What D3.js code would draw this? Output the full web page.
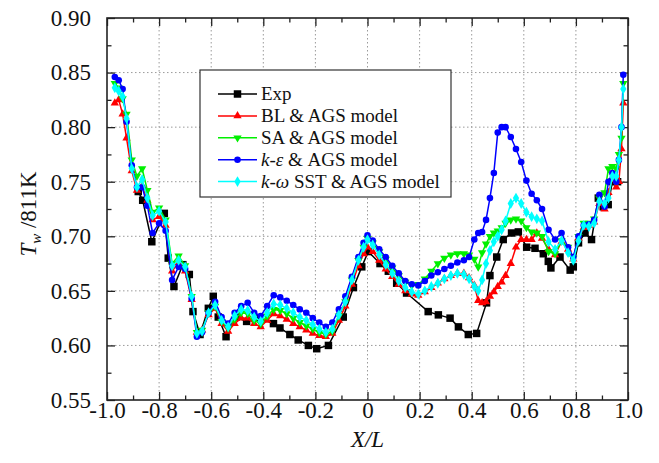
<!DOCTYPE html>
<html>
<head>
<meta charset="utf-8">
<script src="https://cdn.jsdelivr.net/npm/d3@7"></script>
<style>
  body { margin: 0; background: #fff; }
  text { font-family: "Liberation Serif", "Times New Roman", serif; }
</style>
</head>
<body>
<div id="chart"></div>
<script>
// shared X/L positions of the simulation points
const xSim = [-0.97, -0.955, -0.94, -0.925, -0.905, -0.885, -0.865, -0.845, -0.825, -0.8,
  -0.775, -0.75, -0.725, -0.7, -0.675, -0.655, -0.635, -0.61, -0.585, -0.56,
  -0.535, -0.51, -0.485, -0.46, -0.435, -0.41, -0.385, -0.36, -0.335, -0.31,
  -0.285, -0.26, -0.235, -0.21, -0.185, -0.16, -0.135, -0.11, -0.085, -0.06,
  -0.035, -0.015, 0.0, 0.02, 0.045, 0.07, 0.095, 0.12, 0.145, 0.17,
  0.195, 0.22, 0.245, 0.27, 0.295, 0.32, 0.345, 0.37, 0.39, 0.41,
  0.425, 0.44, 0.455, 0.47, 0.485, 0.5, 0.515, 0.53, 0.55, 0.57,
  0.59, 0.61, 0.63, 0.65, 0.67, 0.695, 0.72, 0.745, 0.77, 0.79,
  0.81, 0.83, 0.85, 0.87, 0.89, 0.91, 0.925, 0.94, 0.955, 0.965,
  0.975, 0.982];

const blY = [0.822, 0.825, 0.812, 0.790, 0.760, 0.742, 0.746, 0.733, 0.715, 0.718,
  0.710, 0.668, 0.676, 0.668, 0.642, 0.612, 0.614, 0.628, 0.634, 0.620,
  0.613, 0.620, 0.625, 0.625, 0.620, 0.617, 0.623, 0.629, 0.627, 0.624,
  0.620, 0.617, 0.614, 0.611, 0.609, 0.608, 0.611, 0.623, 0.636, 0.656,
  0.673, 0.684, 0.690, 0.686, 0.678, 0.670, 0.663, 0.656, 0.650, 0.647,
  0.646, 0.649, 0.653, 0.657, 0.661, 0.664, 0.666, 0.666, 0.662, 0.655,
  0.641, 0.639, 0.640, 0.645, 0.649, 0.654, 0.658, 0.664, 0.675, 0.690,
  0.697, 0.697, 0.697, 0.703, 0.698, 0.688, 0.683, 0.695, 0.688, 0.679,
  0.698, 0.708, 0.710, 0.713, 0.730, 0.725, 0.740, 0.752, 0.745, 0.750,
  0.780, 0.822];

const saY = [0.840, 0.836, 0.826, 0.812, 0.770, 0.755, 0.762, 0.742, 0.722, 0.726,
  0.715, 0.675, 0.682, 0.673, 0.645, 0.612, 0.614, 0.630, 0.636, 0.622,
  0.616, 0.624, 0.630, 0.629, 0.623, 0.620, 0.627, 0.633, 0.632, 0.629,
  0.625, 0.621, 0.618, 0.615, 0.612, 0.610, 0.613, 0.627, 0.640, 0.660,
  0.678, 0.690, 0.698, 0.694, 0.686, 0.679, 0.671, 0.664, 0.658, 0.655,
  0.656, 0.661, 0.668, 0.675, 0.680, 0.683, 0.684, 0.684, 0.683, 0.679,
  0.672, 0.685, 0.693, 0.700, 0.703, 0.705, 0.708, 0.712, 0.715, 0.716,
  0.714, 0.708, 0.704, 0.703, 0.700, 0.686, 0.684, 0.696, 0.690, 0.680,
  0.700, 0.712, 0.712, 0.716, 0.735, 0.740, 0.762, 0.764, 0.762, 0.775,
  0.790, 0.840];

const keY = [0.846, 0.843, 0.835, 0.805, 0.765, 0.745, 0.745, 0.728, 0.703, 0.712,
  0.705, 0.660, 0.672, 0.670, 0.643, 0.608, 0.612, 0.630, 0.640, 0.626,
  0.620, 0.630, 0.636, 0.639, 0.630, 0.627, 0.636, 0.646, 0.644, 0.641,
  0.637, 0.633, 0.630, 0.625, 0.621, 0.617, 0.621, 0.633, 0.645, 0.663,
  0.681, 0.694, 0.701, 0.696, 0.688, 0.681, 0.673, 0.666, 0.659, 0.656,
  0.655, 0.659, 0.664, 0.667, 0.670, 0.673, 0.676, 0.678, 0.681, 0.697,
  0.703, 0.704, 0.715, 0.735, 0.758, 0.795, 0.800, 0.800, 0.791, 0.780,
  0.768, 0.751, 0.739, 0.733, 0.725, 0.706, 0.697, 0.703, 0.690, 0.681,
  0.700, 0.710, 0.711, 0.715, 0.738, 0.727, 0.750, 0.758, 0.750, 0.770,
  0.800, 0.848];

const kwY = [0.836, 0.833, 0.828, 0.808, 0.762, 0.745, 0.752, 0.735, 0.719, 0.723,
  0.713, 0.673, 0.678, 0.672, 0.645, 0.611, 0.613, 0.630, 0.637, 0.623,
  0.617, 0.627, 0.633, 0.632, 0.626, 0.622, 0.630, 0.638, 0.637, 0.634,
  0.630, 0.626, 0.623, 0.619, 0.615, 0.612, 0.615, 0.628, 0.640, 0.660,
  0.678, 0.690, 0.697, 0.692, 0.683, 0.674, 0.666, 0.659, 0.653, 0.649,
  0.647, 0.650, 0.654, 0.657, 0.661, 0.664, 0.666, 0.665, 0.661, 0.654,
  0.650, 0.660, 0.675, 0.687, 0.695, 0.700, 0.706, 0.714, 0.730, 0.735,
  0.730, 0.722, 0.718, 0.716, 0.714, 0.695, 0.688, 0.696, 0.685, 0.678,
  0.696, 0.710, 0.709, 0.712, 0.732, 0.730, 0.735, 0.755, 0.755, 0.770,
  0.800, 0.835];

// experiment
const expX = [-0.88, -0.863, -0.828, -0.78, -0.765, -0.743, -0.709, -0.684, -0.67, -0.643,
  -0.611, -0.592, -0.573, -0.543, -0.505, -0.464, -0.413, -0.361, -0.336, -0.298,
  -0.266, -0.227, -0.195, -0.15, -0.093, -0.054, -0.022, 0.003, 0.048, 0.08,
  0.112, 0.15, 0.233, 0.272, 0.317, 0.349, 0.387, 0.419, 0.457, 0.47,
  0.496, 0.521, 0.553, 0.579, 0.611, 0.643, 0.675, 0.694, 0.704, 0.739,
  0.778, 0.79, 0.81, 0.835, 0.86, 0.886, 0.905, 0.924, 0.94, 0.96];
const expY = [0.741, 0.733, 0.695, 0.721, 0.680, 0.654, 0.674, 0.665, 0.631, 0.610,
  0.634, 0.645, 0.626, 0.608, 0.626, 0.622, 0.625, 0.620, 0.616, 0.610,
  0.605, 0.600, 0.597, 0.600, 0.626, 0.653, 0.672, 0.686, 0.675, 0.668,
  0.657, 0.648, 0.631, 0.628, 0.625, 0.617, 0.610, 0.611, 0.639, 0.664,
  0.681, 0.697, 0.703, 0.704, 0.690, 0.689, 0.684, 0.677, 0.671, 0.681,
  0.669, 0.672, 0.694, 0.703, 0.697, 0.735, 0.727, 0.729, 0.750, 0.750];

const xTicks = [-1.0, -0.8, -0.6, -0.4, -0.2, 0, 0.2, 0.4, 0.6, 0.8, 1.0];
const yTicks = [0.55, 0.60, 0.65, 0.70, 0.75, 0.80, 0.85, 0.90];
const seriesNames = ['Exp', 'BL & AGS model', 'SA & AGS model', 'k-ε & AGS model', 'k-ω SST & AGS model'];

const W = 659, H = 463;
const margin = { left: 107, right: 31, top: 18, bottom: 63 };
const width = W - margin.left - margin.right;
const height = H - margin.top - margin.bottom;

const svg = d3.select('#chart').append('svg')
  .attr('width', W)
  .attr('height', H);

const g = svg.append('g')
  .attr('transform', `translate(${margin.left}, ${margin.top})`);

const x = d3.scaleLinear().domain([-1, 1]).range([0, width]);
const y = d3.scaleLinear().domain([0.55, 0.9]).range([height, 0]);

// dotted grid
g.append('g').selectAll('line')
  .data(xTicks.slice(1, -1))
  .join('line')
    .attr('x1', d => x(d)).attr('x2', d => x(d))
    .attr('y1', 0).attr('y2', height)
    .attr('stroke', '#9a9a9a').attr('stroke-width', 1)
    .attr('stroke-dasharray', '1.5,2.5');
g.append('g').selectAll('line')
  .data(yTicks.slice(1, -1))
  .join('line')
    .attr('y1', d => y(d)).attr('y2', d => y(d))
    .attr('x1', 0).attr('x2', width)
    .attr('stroke', '#9a9a9a').attr('stroke-width', 1)
    .attr('stroke-dasharray', '1.5,2.5');

// axes, ticks pointing inward
const xMinor = d3.range(-0.9, 1.0, 0.2).map(d => +d.toFixed(2));
const yMinor = d3.range(0.575, 0.9, 0.05).map(d => +d.toFixed(3));
const fmtX = d => d === 0 ? '0' : d3.format('.1f')(d).replace('\u2212', '-');

function styleAxis(sel) {
  sel.select('.domain').remove();
  sel.selectAll('line').attr('stroke', '#222').attr('stroke-width', 1.3);
  sel.selectAll('text').attr('font-size', 23).attr('fill', '#111')
    .style('font-family', '"Liberation Serif", serif');
}

g.append('g').attr('transform', `translate(0, ${height})`)
  .call(d3.axisBottom(x).tickValues(xTicks).tickSize(-8).tickPadding(2).tickFormat(fmtX))
  .call(styleAxis);
g.append('g').attr('transform', `translate(0, ${height})`)
  .call(d3.axisBottom(x).tickValues(xMinor).tickSize(-4.5).tickFormat(''))
  .call(styleAxis);
g.append('g')
  .call(d3.axisTop(x).tickValues(xTicks).tickSize(-8).tickFormat(''))
  .call(styleAxis);
g.append('g')
  .call(d3.axisTop(x).tickValues(xMinor).tickSize(-4.5).tickFormat(''))
  .call(styleAxis);

g.append('g')
  .call(d3.axisLeft(y).tickValues(yTicks).tickSize(-8).tickPadding(16).tickFormat(d3.format('.2f')))
  .call(styleAxis);
g.append('g')
  .call(d3.axisLeft(y).tickValues(yMinor).tickSize(-4.5).tickFormat(''))
  .call(styleAxis);
g.append('g').attr('transform', `translate(${width}, 0)`)
  .call(d3.axisRight(y).tickValues(yTicks).tickSize(-8).tickFormat(''))
  .call(styleAxis);
g.append('g').attr('transform', `translate(${width}, 0)`)
  .call(d3.axisRight(y).tickValues(yMinor).tickSize(-4.5).tickFormat(''))
  .call(styleAxis);

g.append('rect')
  .attr('width', width).attr('height', height)
  .attr('fill', 'none').attr('stroke', '#222').attr('stroke-width', 1.6);

// series
const sym = {
  square: d3.symbol().type(d3.symbolSquare).size(56),
  triUp: d3.symbol().type(d3.symbolTriangle).size(30),
  circle: d3.symbol().type(d3.symbolCircle).size(34),
  diamond: d3.symbol().type(d3.symbolDiamond).size(34)
};

const series = [
  { name: seriesNames[0], xs: expX, ys: expY, color: '#000000', shape: sym.square, rot: 0 },
  { name: seriesNames[1], xs: xSim, ys: blY, color: '#ff0000', shape: sym.triUp, rot: 0 },
  { name: seriesNames[2], xs: xSim, ys: saY, color: '#00f000', shape: sym.triUp, rot: 180 },
  { name: seriesNames[3], xs: xSim, ys: keY, color: '#0000ff', shape: sym.circle, rot: 0 },
  { name: seriesNames[4], xs: xSim, ys: kwY, color: '#00ffff', shape: sym.diamond, rot: 0 }
];

const line = d3.line().x(d => x(d[0])).y(d => y(d[1]));

series.forEach(s => {
  const pts = s.xs.map((v, i) => [v, s.ys[i]]);
  const sg = g.append('g');
  sg.append('path')
    .datum(pts)
    .attr('d', line)
    .attr('fill', 'none')
    .attr('stroke', s.color)
    .attr('stroke-width', 1.5);
  sg.selectAll('path.m')
    .data(pts)
    .join('path')
      .attr('class', 'm')
      .attr('d', s.shape)
      .attr('fill', s.color)
      .attr('transform', d => `translate(${x(d[0])}, ${y(d[1])}) rotate(${s.rot})`);
});

// legend
const lg = svg.append('g').attr('transform', 'translate(200, 70)');
lg.append('rect')
  .attr('width', 251).attr('height', 127)
  .attr('fill', '#fff').attr('stroke', '#333').attr('stroke-width', 1.2);

series.forEach((s, i) => {
  const row = lg.append('g').attr('transform', `translate(0, ${24 + i * 21.9})`);
  row.append('line')
    .attr('x1', 18).attr('x2', 57)
    .attr('stroke', s.color).attr('stroke-width', 1.5);
  row.append('path')
    .attr('d', s.shape)
    .attr('fill', s.color)
    .attr('transform', `translate(37.5, 0) rotate(${s.rot})`);
  const t = row.append('text')
    .attr('x', 61).attr('dy', '0.34em')
    .attr('font-size', 19).attr('fill', '#111');
  if (i === 3 || i === 4) {
    t.append('tspan').attr('font-style', 'italic').text(s.name.slice(0, 3));
    t.append('tspan').text(s.name.slice(3));
  } else {
    t.text(s.name);
  }
});

// axis titles
svg.append('text')
  .attr('x', margin.left + width / 2).attr('y', 447)
  .attr('text-anchor', 'middle')
  .attr('font-size', 23).attr('font-style', 'italic').attr('fill', '#111')
  .text('X/L');

const yt = svg.append('text')
  .attr('transform', `translate(36, ${margin.top + height / 2 + 5}) rotate(-90)`)
  .attr('text-anchor', 'middle')
  .attr('font-size', 23).attr('fill', '#111');
yt.append('tspan').attr('font-style', 'italic').text('T');
yt.append('tspan').attr('font-style', 'italic').attr('font-size', 15).attr('dy', 5).text('w');
yt.append('tspan').attr('dy', -5).text(' /811K');
</script>
</body>
</html>
